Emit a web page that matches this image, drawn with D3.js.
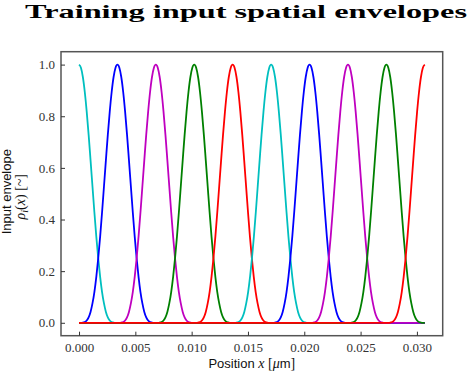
<!DOCTYPE html>
<html>
<head>
<meta charset="utf-8">
<script src="https://cdn.jsdelivr.net/npm/d3@7"></script>
<style>
  body { margin: 0; background: #fff; }
  svg { display: block; }
</style>
</head>
<body>
<svg id="chart" width="470" height="374"></svg>
<script>
// peak positions of each envelope, in micrometres
const CENTERS = [0, 0.00341, 0.00682, 0.01023, 0.01364, 0.01706, 0.02047, 0.02388, 0.02729, 0.0307];
const COLORS = ['#00bfbf', '#0000ff', '#bf00bf', '#008000', '#ff0000',
                '#00bfbf', '#0000ff', '#bf00bf', '#008000', '#ff0000'];
// half-width of each bump (it reaches zero at the neighbouring peak)
const HALF_WIDTH = 0.00341;
const PROFILE = [1, 0.988, 0.952, 0.894, 0.818, 0.729, 0.630, 0.529, 0.428, 0.334,
                 0.25, 0.178, 0.119, 0.075, 0.042, 0.021, 0.009, 0.003, 0.001, 0, 0];
const X_RANGE = [0, 0.0307];
const X_TICKS = [0, 0.005, 0.010, 0.015, 0.020, 0.025, 0.030];
const Y_TICKS = [0, 0.2, 0.4, 0.6, 0.8, 1.0];

const W = 470, H = 374;
const margin = { top: 51.7, right: 27.3, bottom: 38.3, left: 61 };

const svg = d3.select('#chart');

const x = d3.scaleLinear().domain([-0.0016, 0.03229]).range([margin.left, W - margin.right]);
const y = d3.scaleLinear().domain([-0.05, 1.05]).range([H - margin.bottom, margin.top]);

function curvePoints(c) {
  const pts = [];
  const step = 1 / (PROFILE.length - 1);
  for (let i = -(PROFILE.length - 1); i <= PROFILE.length - 1; i++) {
    const xv = c + i * step * HALF_WIDTH;
    if (xv < X_RANGE[0] - 1e-9 || xv > X_RANGE[1] + 1e-9) continue;
    pts.push([xv, PROFILE[Math.abs(i)]]);
  }
  if (pts[0][0] > X_RANGE[0]) pts.unshift([X_RANGE[0], 0]);
  if (pts[pts.length - 1][0] < X_RANGE[1]) pts.push([X_RANGE[1], 0]);
  return pts;
}

const line = d3.line()
  .x(d => x(d[0]))
  .y(d => y(d[1]))
  .curve(d3.curveMonotoneX);

svg.append('g')
  .selectAll('path')
  .data(CENTERS)
  .enter()
  .append('path')
  .attr('fill', 'none')
  .attr('stroke', (d, i) => COLORS[i])
  .attr('stroke-width', 1.8)
  .attr('d', d => line(curvePoints(d)));

// frame
svg.append('rect')
  .attr('x', margin.left)
  .attr('y', margin.top)
  .attr('width', W - margin.left - margin.right)
  .attr('height', H - margin.top - margin.bottom)
  .attr('fill', 'none')
  .attr('stroke', '#555')
  .attr('stroke-width', 1.5);

const tickFont = '"Liberation Serif", serif';

const xAxis = svg.append('g')
  .attr('transform', `translate(0,${H - margin.bottom})`)
  .call(d3.axisBottom(x).tickValues(X_TICKS).tickSizeInner(-4).tickSizeOuter(0).tickPadding(7)
    .tickFormat(d3.format('.3f')));

const yAxis = svg.append('g')
  .attr('transform', `translate(${margin.left},0)`)
  .call(d3.axisLeft(y).tickValues(Y_TICKS).tickSizeInner(-4).tickSizeOuter(0).tickPadding(6)
    .tickFormat(d3.format('.1f')));

[xAxis, yAxis].forEach(g => {
  g.attr('font-family', null).attr('font-size', null);
  g.select('.domain').remove();
  g.selectAll('.tick line').attr('stroke', '#333').attr('stroke-width', 1);
  g.selectAll('.tick text')
    .style('font-family', tickFont)
    .style('font-size', '13px')
    .attr('fill', '#333');
});

// title
svg.append('text')
  .attr('x', 25)
  .attr('y', 17.5)
  .attr('textLength', 442)
  .attr('lengthAdjust', 'spacingAndGlyphs')
  .style('font-family', '"Liberation Serif", serif')
  .attr('font-weight', 'bold')
  .attr('font-size', 18.5)
  .attr('fill', '#000')
  .text('Training input spatial envelopes');

// x label
const xl = svg.append('text')
  .attr('x', (margin.left + W - margin.right) / 2)
  .attr('y', 368)
  .attr('text-anchor', 'middle')
  .attr('font-family', '"Liberation Sans", Arial, sans-serif')
  .attr('font-size', 13)
  .attr('fill', '#111');
xl.append('tspan').text('Position ');
xl.append('tspan').attr('font-family', '"Liberation Serif", serif').attr('font-style', 'italic').attr('font-size', 14).text('x');
xl.append('tspan').attr('font-family', '"Liberation Serif", serif').attr('font-size', 14).text(' [');
xl.append('tspan').attr('font-family', '"Liberation Serif", serif').attr('font-style', 'italic').attr('font-size', 14).text('μ');
xl.append('tspan').text('m');
xl.append('tspan').attr('font-family', '"Liberation Serif", serif').attr('font-size', 14).text(']');

// y label (two lines)
const cy = (margin.top + H - margin.bottom) / 2;
const yl = svg.append('g').attr('transform', `translate(0,${cy}) rotate(-90)`);
yl.append('text')
  .attr('x', 2)
  .attr('y', 10.5)
  .attr('text-anchor', 'middle')
  .attr('font-family', '"Liberation Sans", Arial, sans-serif')
  .attr('font-size', 13)
  .attr('fill', '#111')
  .text('Input envelope');
const y2 = yl.append('text')
  .attr('x', -3)
  .attr('y', 25)
  .attr('text-anchor', 'middle')
  .attr('font-family', '"Liberation Serif", serif')
  .attr('font-size', 14)
  .attr('fill', '#111');
y2.append('tspan').attr('font-style', 'italic').text('ρ');
y2.append('tspan').attr('font-style', 'italic').attr('font-size', 10).attr('dy', 3).text('i');
y2.append('tspan').attr('dy', -3).text('(');
y2.append('tspan').attr('font-style', 'italic').text('x');
y2.append('tspan').text(')  [~]');
</script>
</body>
</html>
